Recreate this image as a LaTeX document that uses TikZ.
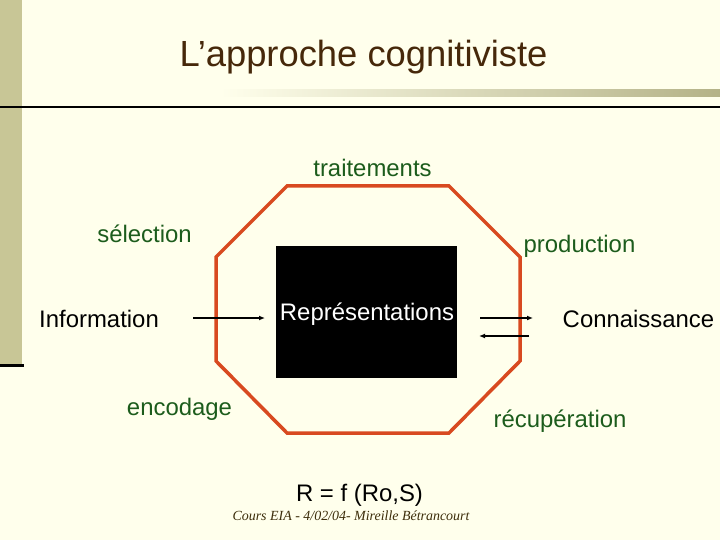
\documentclass[tikz,border=0pt]{standalone}
\usepackage{fontspec}
\setmainfont{Liberation Sans}
\newfontfamily\footfont{Liberation Serif}
\usetikzlibrary{arrows.meta}
\definecolor{bg}{RGB}{255,255,236}
\definecolor{khaki}{RGB}{200,198,150}
\definecolor{titlebrown}{RGB}{70,40,10}
\definecolor{lblgreen}{RGB}{28,92,28}
\definecolor{octred}{RGB}{216,74,32}
\definecolor{footbrown}{RGB}{60,45,10}
\tikzset{
  lbl/.style={anchor=base, inner sep=0pt, font=\fontsize{24}{27}\selectfont},
  glbl/.style={lbl, text=lblgreen},
  arr/.style={line width=1.5bp, -{Latex[length=6bp,width=5bp]}},
}
\begin{document}
\begin{tikzpicture}[x=1bp,y=-1bp]
\fill[bg] (0,0) rectangle (720,540);
\useasboundingbox (0,0) rectangle (720,540);
% left bar
\fill[khaki] (0,0) rectangle (22,365);
\draw[line width=3bp] (0,365) -- (24,365);
% gradient bar under title
\shade[left color=bg, right color=khaki!90!black] (220,90) rectangle (720,97);
\draw[line width=1.2bp] (0,107) -- (720,107);
% title
\node[anchor=base, inner sep=0pt, text=titlebrown, font=\fontsize{36.5}{40}\selectfont] (title) at (363.5,67) {L’approche cognitiviste};
% octagon
\draw[octred, line width=3.5bp, line join=miter]
  (287,186) -- (449,186) -- (520,257) -- (520,361) -- (449,433) -- (287,433) -- (216,361) -- (216,257) -- cycle;
% central box
\node[fill=black, minimum width=181bp, minimum height=132bp, inner sep=0pt] (rep) at (366.5,312) {};
\node[lbl, text=white] (reptxt) at (367,320) {Représentations};
% labels
\node[glbl] (trait) at (372.5,177) {traitements};
\node[glbl] (sel) at (144.5,243) {sélection};
\node[glbl] (prod) at (579.5,253) {production};
\node[glbl] (enc) at (179.5,415) {encodage};
\node[glbl] (recup) at (560,427) {récupération};
\node[lbl] (info) at (99,327) {Information};
\node[lbl] (conn) at (638.5,327) {Connaissance};
\node[lbl] (eq) at (359.5,501) {R = f (Ro,S)};
\node[anchor=base, inner sep=0pt, text=footbrown, font=\footfont\itshape\fontsize{14}{16}\selectfont] (foot) at (351,520) {Cours EIA - 4/02/04- Mireille Bétrancourt};
% arrows
\coordinate (a1s) at (193,318);
\coordinate (a1e) at (265,318);
\coordinate (a2s) at (480,318);
\coordinate (a2e) at (533,318);
\coordinate (a3s) at (529,336);
\coordinate (a3e) at (479,336);
\draw[arr] (a1s) -- (a1e);
\draw[arr] (a2s) -- (a2e);
\draw[arr] (a3s) -- (a3e);
\end{tikzpicture}
\end{document}
